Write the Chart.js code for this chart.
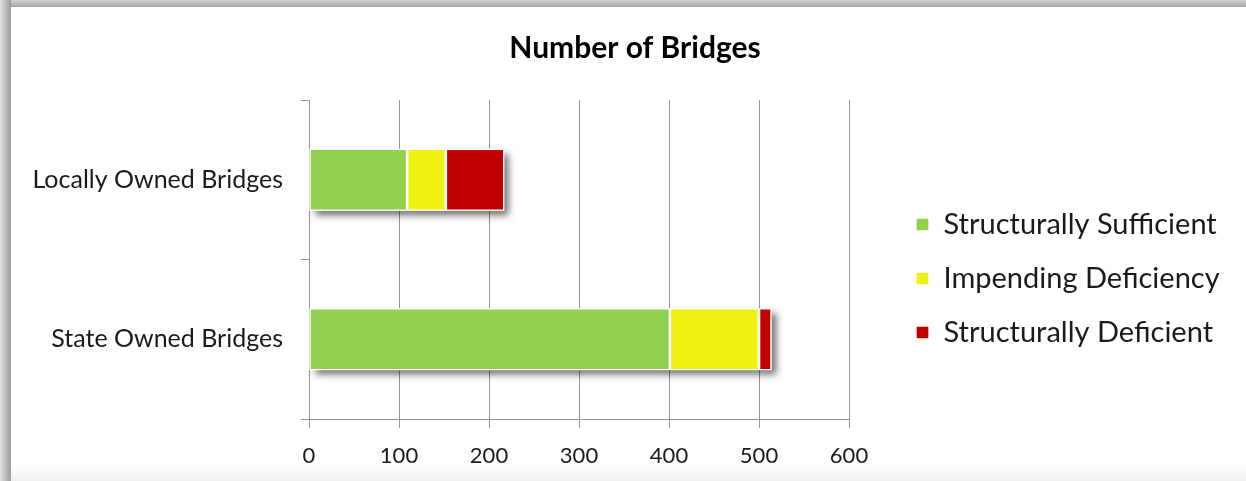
<!DOCTYPE html>
<html>
<head>
<meta charset="utf-8">
<script src="https://cdn.jsdelivr.net/npm/chart.js@4"></script>
<style>
    html, body { margin: 0; padding: 0; background: #fff; overflow: hidden; }
    #wrap { position: relative; width: 1246px; height: 481px; }
    .edge { position: absolute; }
    #top { left: 0; top: 0; width: 1246px; height: 7px; background: linear-gradient(to bottom, #d2d2d2, #a3a3a3); }
    #left { left: 0; top: 0; width: 11px; height: 481px; background: linear-gradient(to right, #e2e2e2, #9c9c9c); }
    #bottom { left: 11px; top: 466px; width: 1235px; height: 15px; background: linear-gradient(to bottom, #ffffff, #efefef); }
    #chart { position: absolute; left: 0; top: 0; }
</style>
</head>
<body>
<div id="wrap">
    <div class="edge" id="bottom"></div>
    <div class="edge" id="top"></div>
    <div class="edge" id="left"></div>
    <canvas id="chart" width="1246" height="481"></canvas>
</div>
<script>
let categories = ['Locally Owned Bridges', 'State Owned Bridges'];
let sufficient = [109, 401];
let impending = [43, 99];
let deficient = [65, 14];
let xMin = 0;
let xMax = 600;
let xStep = 100;

let fontFamily = 'Lato, "Open Sans", sans-serif';
let gridColor = '#959595';
let legendGap = 42; // extra room between plot and legend
let legendDrop = 19;

function initializeChart() {

    let data = {
        labels: categories,
        datasets: [
            { label: 'Structurally Sufficient', data: sufficient, backgroundColor: '#92d050' },
            { label: 'Impending Deficiency', data: impending, backgroundColor: '#eef213' },
            { label: 'Structurally Deficient', data: deficient, backgroundColor: '#c00000' }
        ]
    };

    data.datasets.forEach(function (ds) {
        ds.borderColor = '#ffffff';
        ds.borderWidth = 1.3;
        ds.borderSkipped = false;
        ds.categoryPercentage = 0.8;
        ds.barPercentage = 0.485;
    });

    // soft drop shadow behind each whole stacked bar
    const barShadow = {
        id: 'bar_shadow',
        beforeDatasetsDraw: (chart) => {
            const ctx = chart.ctx;
            for (let i = 0; i < categories.length; i++) {
                let left = Infinity, right = -Infinity, top = 0, h = 0;
                chart.data.datasets.forEach(function (ds, d) {
                    let bar = chart.getDatasetMeta(d).data[i];
                    if (!bar) return;
                    left = Math.min(left, bar.base, bar.x);
                    right = Math.max(right, bar.base, bar.x);
                    top = bar.y - bar.height / 2;
                    h = bar.height;
                });
                ctx.save();
                ctx.shadowColor = 'rgba(0, 0, 0, 0.55)';
                ctx.shadowBlur = 7;
                ctx.shadowOffsetX = 5;
                ctx.shadowOffsetY = 5;
                ctx.fillStyle = '#ffffff';
                ctx.fillRect(left, top, right - left, h);
                ctx.restore();
            }
        }
    };

    // fixed legend box width, and legend nudged away from the plot
    const legendPlace = {
        id: 'legend_place',
        beforeLayout: (chart) => {
            const lg = chart.legend;
            if (lg && !lg._fixed) {
                const fit = lg.fit;
                lg.fit = function () {
                    fit.call(this);
                    this.width = 397;
                };
                lg._fixed = true;
            }
        },
        afterLayout: (chart) => {
            const lg = chart.legend;
            lg.left += legendGap;
            lg.right += legendGap;
            lg.top += legendDrop;
            lg.bottom += legendDrop;
        }
    };

    const config = {
        type: 'bar',
        data: data,
        options: {
            indexAxis: 'y',
            responsive: false,
            animation: false,
            layout: {
                padding: { left: 24, right: 0, top: 0, bottom: 0 }
            },
            plugins: {
                title: {
                    display: true,
                    text: 'Number of Bridges',
                    color: '#000000',
                    font: { family: fontFamily, size: 30, weight: 'bold' },
                    padding: { top: 30, bottom: 34 }
                },
                legend: {
                    position: 'right',
                    fullSize: false,
                    align: 'center',
                    labels: {
                        color: '#1a1a1a',
                        boxWidth: 13,
                        boxHeight: 13,
                        padding: 25,
                        font: { family: fontFamily, size: 29 }
                    }
                },
                tooltip: { enabled: false }
            },
            scales: {
                x: {
                    stacked: true,
                    min: xMin,
                    max: xMax,
                    ticks: {
                        stepSize: xStep,
                        color: '#1a1a1a',
                        padding: 15,
                        font: { family: fontFamily, size: 22 }
                    },
                    grid: {
                        color: gridColor,
                        tickLength: 9,
                        lineWidth: 1
                    },
                    border: { color: gridColor },
                    afterFit: function (scale) {
                        scale.height = 62;
                    }
                },
                y: {
                    stacked: true,
                    ticks: {
                        color: '#1a1a1a',
                        padding: 18,
                        font: { family: fontFamily, size: 25 }
                    },
                    grid: {
                        offset: true,
                        drawOnChartArea: false,
                        color: gridColor,
                        tickLength: 8
                    },
                    border: { color: gridColor },
                    afterFit: function (scale) {
                        scale.width = 285;
                    }
                }
            }
        },
        plugins: [barShadow, legendPlace]
    };

    chart = new Chart(document.getElementById('chart'), config);
}

let chart;
initializeChart();
</script>
</body>
</html>
